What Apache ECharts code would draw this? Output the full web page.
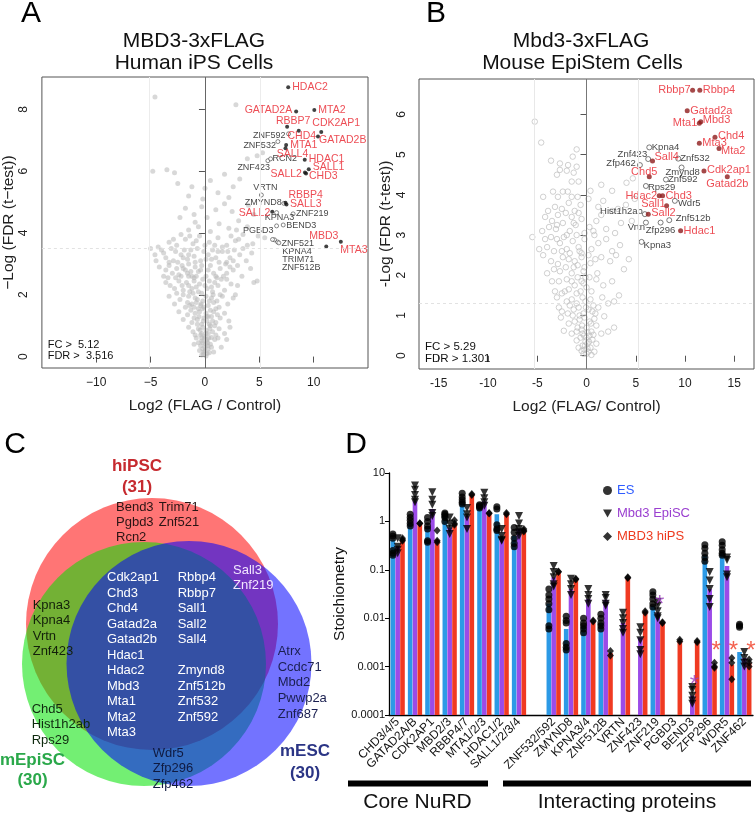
<!DOCTYPE html>
<html><head><meta charset="utf-8">
<script src="https://cdn.jsdelivr.net/npm/echarts@6/dist/echarts.min.js"></script>
<style>html,body{margin:0;padding:0;background:#fff}#c{width:756px;height:815px}</style>
</head><body><div id="c"></div><script>
const FF = 'Liberation Sans, Arial, Helvetica, sans-serif';

// ---------- Panel A data (Log2 FLAG/Control, -Log FDR) ----------
const aXTicks = [-10, -5, 0, 5, 10];
const aYTicks = [0, 2, 4, 6, 8];
const aBackground = [
 [-0.3,0.05],[0.1,0.02],[0.2,0.1],[-0.1,0.15],[0,0.3],[0.3,0.25],[-0.4,0.35],[0.5,0.4],[-0.2,0.45],[0.15,0.5],[-0.5,0.2],[0.4,0.12],[-0.15,0.08],[0.05,0.4],[0.25,0.45],[-0.3,0.5],[0.6,0.3],[-0.6,0.45],[0.8,0.15],[1.5,0.3],[2,0.55],[-1,0.4],[1.2,0.6],[0,0.18],[-0.05,0.6],[0.1,0.75],
 [-0.8,0.6],[-0.4,0.7],[0,0.65],[0.3,0.75],[0.7,0.8],[-0.6,0.9],[-0.2,0.95],[0.1,0.85],[0.5,1.0],[0.9,0.55],[-1.1,0.8],[1.3,0.9],[-0.3,0.6],[0.2,0.55],[1.8,0.75],[-1.5,0.95],[2.3,0.95],[0.6,0.62],[-0.9,0.7],[1.0,0.7],
 [-1.2,1.1],[-0.7,1.2],[-0.3,1.05],[0.2,1.15],[0.6,1.3],[1,1.1],[-1.6,1.35],[-0.5,1.45],[0.1,1.4],[0.8,1.45],[1.4,1.25],[-2,1.2],[-0.9,1.4],[0.4,1.05],[1.8,1.4],[-1.3,1.5],[2.2,1.15],[-2.4,1.45],[-0.1,1.25],[0.9,1.0],[-0.2,1.55],[0.3,1.3],
 [-1.8,1.6],[-1.2,1.7],[-0.6,1.55],[-0.2,1.8],[0.3,1.65],[0.8,1.75],[1.3,1.6],[-2.3,1.85],[-1.5,1.95],[-0.9,1.9],[0.1,1.95],[0.6,1.9],[1.6,1.95],[-2.8,1.7],[2.1,1.7],[-0.4,1.65],[1.0,1.55],[-1.0,1.6],[2.6,1.9],[-3.3,1.95],[-1.6,1.75],[-0.7,1.85],
 [-2.6,2.05],[-2,2.15],[-1.4,2.1],[-0.8,2.25],[-0.3,2.05],[0.2,2.2],[0.7,2.1],[1.2,2.3],[1.8,2.15],[-3.2,2.3],[-2.4,2.45],[-1.7,2.4],[-1.0,2.45],[0.4,2.45],[1.5,2.5],[2.4,2.35],[-3.6,2.4],[-0.5,2.35],[3.0,2.3],[4.5,2.4],[4.8,2.45],[2.8,2.0],[-1.2,2.2],[0.9,2.4],[-2.1,2.3],[-1.5,2.6],
 [-3.8,2.6],[-3.0,2.7],[-2.4,2.65],[-1.8,2.8],[-1.2,2.6],[-0.6,2.75],[0.1,2.6],[0.8,2.7],[1.4,2.85],[2.0,2.7],[-4.2,2.9],[-3.3,2.95],[-2.1,2.95],[-1.5,3.0],[-0.9,2.9],[0.5,2.95],[1.9,3.0],[2.6,2.8],[3.4,2.6],[-2.7,2.55],[-1.0,2.55],[-0.3,2.95],[1.1,2.55],[3.0,2.95],[4.2,2.85],[-2.0,2.85],[-1.3,2.75],
 [-4.5,3.1],[-3.6,3.2],[-2.9,3.1],[-2.2,3.3],[-1.6,3.15],[-1.0,3.25],[-0.4,3.1],[0.3,3.3],[1.0,3.2],[1.6,3.4],[2.3,3.2],[3.2,3.3],[-4.0,3.45],[-3.1,3.5],[-1.9,3.45],[-0.7,3.5],[0.7,3.45],[2.7,3.45],[3.8,3.1],[-5.0,3.5],[-2.5,3.05],[-1.3,3.45],[2.0,3.05],[4.3,3.35],[-0.1,3.4],
 [-3.3,3.7],[-2.6,3.6],[-1.8,3.8],[-1.1,3.65],[-0.5,3.9],[0.4,3.7],[1.2,3.85],[2.0,3.6],[2.8,3.75],[3.5,3.95],[4.4,3.65],[4.9,3.9],[-2.2,3.95],[-0.8,3.75],[1.6,3.55],[3.9,3.6],[5.5,3.85],[-4.3,3.55],[0.0,3.6],[2.4,3.9],
 [-1.5,4.1],[-0.6,4.2],[0.5,4.05],[1.3,4.3],[2.2,4.15],[3.1,4.4],[3.9,4.2],[-2.3,4.5],[-1.0,4.6],[0.2,4.5],[1.0,4.75],[2.5,4.7],[4.5,4.6],[-0.3,4.85],[1.8,4.95],[-1.8,4.8],[4.0,4.9],[2.9,4.1],[-0.9,4.35],
 [-1.5,5.2],[-0.2,5.1],[1.2,5.3],[2.6,5.5],[-2.5,5.6],[0.5,5.7],[1.8,5.9],[3.2,5.75],[-3.5,6.05],[-4.8,6.0],[-2.8,5.95],[3.9,6.4],[5.3,6.6],[4.8,6.5],[-1.2,5.5],[0.0,5.45],[2.2,5.15],[-4.6,8.4],[2.85,8.15],
 [-0.2,0.25],[0.35,0.6],[-0.45,0.85],[0.45,0.9],[-0.7,1.05],[0.7,1.15],[-0.15,1.15],[0.15,1.3],[-1.0,1.25],[1.15,1.35],[-0.55,1.3],[0.5,1.5],[-1.4,1.65],[-0.8,1.75],[-0.1,1.6],[0.4,1.8],[1.1,1.8],[-2.0,2.0],[-1.1,2.05],[-0.6,2.1],
 [0.0,2.3],[0.6,2.25],[1.4,2.0],[-2.8,2.2],[-1.5,2.3],[-0.2,2.5],[1.0,2.6],[2.0,2.5],[-3.4,2.55],[-2.2,2.6],[-0.8,2.6],[0.3,2.8],[1.7,2.6],[-3.6,2.8],[-2.6,2.85],[-1.6,2.7],[-0.4,2.8],[2.3,2.9],[-4.6,3.3],[-3.3,3.05],
 [-2.0,3.2],[-0.9,3.05],[0.6,3.15],[1.3,3.05],[2.6,3.1],[3.5,3.5],[-3.8,3.35],[-2.7,3.4],[-1.5,3.3],[0.1,3.15],[1.2,3.4],[2.1,3.4],[-2.9,3.8],[-1.4,3.9],[0.9,3.6],[3.1,3.8],[-0.3,0.75],[0.25,0.35],[-0.35,1.7],[0.75,2.0]
];
const aRedNames = ['HDAC2','GATAD2A','MTA2','RBBP7','CDK2AP1','CHD4','GATAD2B','MTA1','SALL4','HDAC1','SALL1','CHD3','SALL2','RBBP4','SALL3','SALL2','MBD3','MTA3'];
const aRedX = [7.66, 8.39, 10.06, 7.56, 10.7, 8.63, 10.4, 7.47, 7.41, 9.18, 9.55, 9.3, 9.2, 7.41, 7.5, 6.19, 12.5, 11.16];
const aRedY = [8.72, 7.93, 7.98, 7.44, 7.27, 7.31, 7.12, 6.85, 6.74, 6.37, 6.06, 5.93, 5.96, 4.98, 4.92, 4.69, 3.72, 3.56];
const aBlkNames = ['ZNF592','ZNF532','ZNF423','RCN2','VRTN','ZMYND8','KPNA3','ZNF219','PGBD3','BEND3','ZNF521','KPNA4','TRIM71','ZNF512B'];
const aBlkX = [7.69, 6.71, 5.79, 6.04, 5.19, 7.26, 6.59, 8.11, 6.59, 7.2, 6.68, 6.4, 6.22, 6.8];
const aBlkY = [7.21, 6.96, 6.34, 6.4, 5.23, 4.96, 4.66, 4.62, 4.23, 4.26, 3.71, 3.78, 3.79, 3.68];

// ---------- Panel B data ----------
const bXTicks = [-15, -10, -5, 0, 5, 10, 15];
const bYTicks = [0, 1, 2, 3, 4, 5, 6];
const bBackground = [
 [0,0.05],[0.2,0.1],[-0.2,0.15],[0.4,0.2],[-0.4,0.25],[0.1,0.3],[-0.1,0.35],[0.6,0.4],[-0.6,0.45],[0.3,0.5],[-0.3,0.05],[0.8,0.1],[-0.8,0.2],[0,0.45],[0.5,0.02],[-0.5,0.12],[1.0,0.3],[-1.0,0.38],[0.1,0.18],[-0.15,0.25],
 [-1.5,0.55],[-1.0,0.6],[-0.5,0.65],[0,0.7],[0.5,0.6],[1.0,0.75],[-1.8,0.8],[-1.2,0.85],[-0.7,0.9],[-0.2,0.95],[0.3,0.85],[0.8,0.92],[1.5,0.55],[2.2,0.6],[-2.3,0.62],[-0.4,0.55],[0.7,0.52],[-2.6,0.95],[2.8,0.7],[1.8,0.98],[-0.9,0.7],[0.1,0.58],
 [-2.5,1.1],[-1.9,1.05],[-1.3,1.15],[-0.8,1.2],[-0.3,1.05],[0.2,1.15],[0.7,1.25],[-2.0,1.35],[-1.5,1.4],[-1.0,1.3],[-0.4,1.45],[0.4,1.4],[1.2,1.2],[2.2,1.3],[2.8,1.35],[-2.8,1.2],[-0.1,1.35],[-1.7,1.25],[1.6,1.45],[-3.0,1.45],[0.9,1.05],
 [-3.2,1.6],[-2.5,1.55],[-1.8,1.65],[-1.2,1.75],[-0.6,1.6],[0.0,1.7],[-2.8,1.85],[-2.0,1.9],[-1.5,1.85],[-0.9,1.95],[-0.3,1.8],[0.5,1.6],[1.0,1.9],[3.3,1.5],[-3.5,1.85],[-1.0,1.55],[-0.1,1.95],[2.6,1.85],[1.7,1.75],
 [-4.0,2.05],[-3.3,2.15],[-2.7,2.1],[-2.1,2.2],[-1.5,2.05],[-0.9,2.25],[-0.3,2.1],[0.4,2.3],[1.1,2.05],[-3.6,2.35],[-2.4,2.45],[-1.8,2.4],[-1.2,2.35],[-0.5,2.45],[0.2,2.5],[1.5,2.45],[2.4,2.35],[3.8,2.15],[4.3,2.4],[-4.4,2.5],[3.0,2.5],[-2.9,2.28],[0.9,2.4],[-0.2,2.2],
 [-4.8,2.65],[-4.0,2.7],[-3.3,2.6],[-2.7,2.8],[-2.0,2.65],[-1.4,2.85],[-0.8,2.7],[-0.2,2.9],[0.5,2.65],[1.2,2.8],[-3.6,2.95],[-2.3,2.95],[-1.0,3.0],[0.8,3.0],[2.0,2.9],[3.4,2.75],[-5.5,2.95],[2.6,2.6],[-1.7,2.55],[-3.0,2.9],[-0.5,2.55],
 [-4.5,3.1],[-3.8,3.2],[-3.1,3.15],[-2.4,3.3],[-1.7,3.1],[-1.1,3.25],[-0.5,3.4],[0.3,3.2],[1.0,3.35],[2.0,3.15],[-4.2,3.45],[-2.9,3.5],[-1.5,3.45],[2.9,3.05],[3.5,3.3],[4.6,3.35],[-0.2,3.05],[1.5,3.5],[-3.5,3.35],[0.7,3.1],
 [-3.9,3.6],[-3.2,3.7],[-2.5,3.65],[-1.8,3.8],[-1.2,3.6],[-0.6,3.75],[0.2,3.9],[1.2,3.7],[2.6,3.6],[4.0,3.75],[4.9,3.9],[-4.4,3.95],[-2.9,3.95],[-0.9,3.95],[3.2,3.65],[-2.1,3.55],[1.7,3.85],
 [-3.4,4.08],[-2.4,4.08],[-1.9,4.08],[-1.5,4.33],[-0.8,4.33],[0.4,4.1],[1.5,4.25],[4.06,4.3],[4.7,4.41],[-3.0,4.5],[-2.0,4.6],[-1.3,4.55],[-2.7,4.78],[-1.87,4.74],[-2.7,4.62],[-1.0,4.7],[-1.4,4.95],[-3.6,4.85],[-1.0,5.13],[-4.6,5.3],[-5.25,5.82],[2.6,4.1],
 [-0.25,0.5],[0.25,0.35],[-0.45,0.75],[0.45,0.8],[-0.7,1.0],[0.6,1.1],[-0.05,1.2],[-1.4,1.0],[-2.2,1.6],[-0.5,1.85],[0.3,1.95],[-1.3,2.2],[-0.7,2.6],[-2.5,2.6],[-4.2,2.9],[-2.0,3.0],[-3.0,3.25],[-1.3,3.3],[-0.8,3.55],[-1.5,3.95]
];
const bRedNames = ['Rbbp7','Rbbp4','Gatad2a','Mta1','Mbd3','Chd4','Mta3','Mta2','Sall4','Chd5','Cdk2ap1','Gatad2b','Hdac2','Chd3','Sall1','Sall2','Hdac1'];
const bRedX = [10.77, 11.5, 10.22, 11.45, 11.6, 13.04, 11.45, 13.45, 6.7, 6.37, 11.92, 14.29, 7.38, 7.72, 8.13, 6.27, 9.55];
const bRedY = [6.6, 6.6, 6.09, 5.78, 5.82, 5.43, 5.28, 5.15, 4.84, 4.45, 4.59, 4.45, 3.98, 3.98, 3.73, 3.52, 3.11];
const bBlkNames = ['Kpna4','Znf423','Znf532','Zfp462','Zmynd8','Znf592','Rps29','Wdr5','Hist1h2ab','Znf512b','Vrtn','Zfp296','Kpna3'];
const bBlkX = [6.37, 6.26, 9.31, 5.42, 9.65, 8.06, 6.03, 8.97, 5.92, 8.4, 6.03, 7.52, 5.59];
const bBlkY = [5.18, 4.89, 4.9, 4.74, 4.68, 4.38, 4.22, 3.85, 3.52, 3.37, 3.31, 3.31, 2.83];

// ---------- Panel C data (Venn) ----------
const vennSets = ['hiPSC', 'mEpiSC', 'mESC'];
const vennCounts = [31, 30, 30];
const vennHiOnlyA = ['Bend3', 'Pgbd3', 'Rcn2'];
const vennHiOnlyB = ['Trim71', 'Znf521'];
const vennAllA = ['Cdk2ap1','Chd3','Chd4','Gatad2a','Gatad2b','Hdac1','Hdac2','Mbd3','Mta1','Mta2','Mta3'];
const vennAllB = ['Rbbp4','Rbbp7','Sall1','Sall2','Sall4','','Zmynd8','Znf512b','Znf532','Znf592'];
const vennHiEsc = ['Sall3', 'Znf219'];
const vennHiEpi = ['Kpna3', 'Kpna4', 'Vrtn', 'Znf423'];
const vennEpiOnly = ['Chd5', 'Hist1h2ab', 'Rps29'];
const vennEscOnly = ['Atrx', 'Ccdc71', 'Mbd2', 'Pwwp2a', 'Znf687'];
const vennEpiEsc = ['Wdr5', 'Zfp296', 'Zfp462'];

// ---------- Panel D data (stoichiometry) ----------
const dCategories = ['CHD3/4/5','GATAD2A/B','CDK2AP1','MBD2/3','RBBP4/7','MTA1/2/3','HDAC1/2','SALL1/2/3/4','','ZNF532/592','ZMYND8','KPNA3/4','ZNF512B','VRTN','ZNF423','ZNF219','PGBD3','BEND3','ZFP296','WDR5','ZNF462'];
const dTickLabels = ['0.0001','0.001','0.01','0.1','1','10'];
const esMean    = [0.42, 0.95, 0.8, 1.3, 2.6, 2.0, 1.4, 0.5, null, 0.02, 0.006, 0.007, 0.008, null, null, 0.018, null, null, 0.2, 0.24, 0.002];
const episcMean = [0.3, 2.6, 1.8, 0.75, 1.3, 2.6, 0.45, 0.7, null, 0.07, 0.04, 0.025, 0.024, 0.008, 0.004, 0.013, null, 0.00025, 0.04, 0.12, 0.0015];
const hipsMean  = [0.42, 0.9, 0.42, 0.9, 3.6, 1.45, 1.45, 0.65, null, 0.09, 0.063, 0.0085, 0.0019, 0.068, 0.0135, 0.008, 0.0034, 0.0033, 0.001, 0.0011, 0.0012];
const esReps = [
 [0.55,0.5,0.45,0.25,0.22,0.2],[1.4,1.2,1.05,0.9,0.8],[1.2,1.0,0.8,0.7,0.4,0.37],[1.5,1.4,1.3,1.2,1.0],[3.8,3.2,2.8,2.5,2.3],[2.2,2.1,2.0,1.9],[2.0,1.8,0.85,0.7,0.65],[0.75,0.6,0.45,0.35,0.3],[],
 [0.04,0.03,0.025,0.02,0.015,0.007,0.006],[0.011,0.009,0.008,0.003,0.0025,0.0022],[0.01,0.008,0.007,0.006,0.005],[0.012,0.01,0.008,0.007,0.006],[],[],[0.035,0.03,0.025,0.02,0.017],[],[],[0.33,0.28,0.22,0.18,0.15],[0.38,0.32,0.26,0.22,0.2],[0.0075,0.007,0.0065]
];
const episcReps = [
 [0.45,0.3,0.26,0.22],[5.5,4.5,3.5,2.8,2.5],[4.0,2.8,2.2,1.5,1.3],[1.2,0.9,0.7,0.55],[1.9,1.4,1.2,0.7],[3.9,3.0,2.5,2.1],[0.7,0.5,0.42,0.4],[1.3,0.9,0.7,0.6,0.5],[],
 [0.12,0.09,0.07,0.05,0.045],[0.065,0.05,0.04,0.03],[0.04,0.03,0.025,0.02],[0.03,0.026,0.02,0.018],[0.013,0.01,0.008,0.006,0.005],[0.0065,0.005,0.0035,0.0022,0.0018],[0.022,0.018,0.014,0.011,0.01],[],[0.00038,0.00033,0.00025,0.0002,0.00017],[0.09,0.06,0.04,0.025,0.017],[0.18,0.16,0.08,0.07],[0.002,0.0015,0.0012,0.001]
];
const hipsReps = [
 [0.45,0.42,0.4],[0.92,0.9],[0.65,0.4,0.37],[1.05,0.9,0.85],[3.7,3.5],[1.5,1.45],[1.5,1.4],[0.7,0.65,0.62],[],
 [0.092,0.09],[0.065,0.063],[0.009,0.0085],[0.0021,0.0017],[0.07,0.068],[0.014,0.013],[0.0082,0.008],[0.0036,0.0033],[0.0034,0.0032],[0.0012,0.001,0.00095],[0.0015,0.0012,0.00055],[0.0014,0.0012,0.001]
];
const starsEpisc = [[15, 0.0247], [17, 0.00055]];
const starsHips = [[18, 0.0027], [19, 0.0027], [20, 0.0027]];

// ---------- label placement (style, kept apart from data) ----------
const aRedLbl = [[4,0,'left'],[-4,-1,'right'],[4,0,'left'],[6,-6,'center'],[15,-9,'center'],[3,5.5,'center'],[1,3.5,'left'],[4,0.5,'left'],[7,6,'center'],[4,-1,'left'],[4,-2,'left'],[3,2.5,'left'],[-3,1.5,'right'],[3,-7.5,'left'],[3.5,-0.5,'left'],[-2,1,'right'],[-2.5,-5.5,'right'],[14,3.3,'left']];
const aBlkLbl = [[-3,1.5,'right'],[-2,4,'right'],[2,6.6,'right'],[2,0,'left'],[4,-7,'center'],[-2,-0.5,'right'],[3,4.5,'center'],[3,0,'left'],[-3,4.5,'right'],[3,1,'left'],[4,2,'left'],[7.7,12,'left'],[9.7,20.5,'left'],[3.2,24.7,'left']];
const bRedLbl = [[-2,0,'right'],[3,0,'left'],[3,0,'left'],[-2,0,'right'],[2,-1.7,'left'],[3,-1,'left'],[3,0,'left'],[2,2,'left'],[2,-4,'left'],[-5,-5,'center'],[3,-1.5,'left'],[0,7.5,'center'],[-2,0,'right'],[3,0,'left'],[-1,-2,'right'],[3,-1.3,'left'],[3,0,'left']];
const bBlkLbl = [[2.5,0,'left'],[-1,-5,'right'],[2,0,'left'],[-4,-1.5,'right'],[1,5.3,'center'],[2,0,'left'],[2,1.3,'left'],[3,3,'left'],[-2,-3,'right'],[6.5,-1.7,'left'],[-1,4.7,'right'],[0,8,'center'],[2,3.3,'left']];
const vennCX = [152, 144, 189];
const vennCY = [224, 264, 263.5];
const vennR = [126, 122, 122.5];
const vennFill = ['rgba(255,0,0,0.54)', 'rgba(0,225,0,0.55)', 'rgba(0,0,255,0.55)'];

function labeled(names, xs, ys, lbl, color, size) {
  return names.map((n, i) => ({
    value: [xs[i], ys[i]], name: n,
    label: { show: true, formatter: n, position: 'inside', offset: [lbl[i][0], lbl[i][1]], align: lbl[i][2], verticalAlign: 'middle', color: color, fontSize: size, fontFamily: FF }
  }));
}
function reps(arr) { const out = []; arr.forEach((r, i) => r.forEach(v => out.push([i, v]))); return out; }
const minus = v => (v < 0 ? '\u2212' + (-v) : String(v));

function textBlock(lines, x, firstCenter, color, size, lh, extra) {
  return { type: 'text', x: x, y: firstCenter - lh / 2, silent: true, z: 100,
    style: Object.assign({ text: lines.join('\n'), fill: color, fontSize: size, fontFamily: FF, lineHeight: lh, align: 'left', verticalAlign: 'top' }, extra || {}) };
}
function ctext(t, x, y, size, color, weight, align) {
  return { type: 'text', x: x, y: y, silent: true, z: 100, style: { text: t, fill: color || '#000', fontSize: size, fontFamily: FF, fontWeight: weight || 'normal', align: align || 'center', verticalAlign: 'middle' } };
}

const chart = echarts.init(document.getElementById('c'), null, { renderer: 'canvas', width: 756, height: 815 });

const volcAxisX = (gi, min, max, ticks, name, fmt) => ({
  gridIndex: gi, type: 'value', min: min, max: max,
  axisLine: { show: false }, splitLine: { show: false },
  axisTick: { show: true, customValues: ticks, length: 6, lineStyle: { color: '#555' } },
  axisLabel: { customValues: ticks, formatter: fmt, fontSize: 12, color: '#222', margin: 9, fontFamily: FF },
  name: name, nameLocation: 'middle', nameGap: 30, nameTextStyle: { fontSize: 15.5, color: '#222', fontFamily: FF }
});
const volcAxisY = (gi, min, max, ticks, name, gap, margin) => ({
  gridIndex: gi, type: 'value', min: min, max: max,
  axisLine: { show: false }, splitLine: { show: false },
  axisTick: { show: true, customValues: ticks, length: 6, lineStyle: { color: '#555' } },
  axisLabel: { customValues: ticks, rotate: 90, fontSize: 12, color: '#222', margin: margin, fontFamily: FF },
  name: name, nameLocation: 'middle', nameGap: gap, nameTextStyle: { fontSize: 15.5, color: '#222', fontFamily: FF }
});

const option = {
  animation: false,
  textStyle: { fontFamily: FF },
  grid: [
    { left: 41, top: 77, width: 327, height: 291, show: true, borderColor: '#555', borderWidth: 1, backgroundColor: 'transparent' },
    { left: 419, top: 79, width: 335, height: 290, show: true, borderColor: '#555', borderWidth: 1, backgroundColor: 'transparent' },
    { left: 0, top: 400, width: 340, height: 415 },
    { left: 389, top: 473, width: 364, height: 242 }
  ],
  xAxis: [
    volcAxisX(0, -15, 15, aXTicks, 'Log2 (FLAG / Control)', minus),
    volcAxisX(1, -17, 17, bXTicks, 'Log2 (FLAG/ Control)', v => String(v)),
    { gridIndex: 2, type: 'value', min: 0, max: 340, show: false },
    { gridIndex: 3, type: 'category', data: dCategories,
      axisLine: { lineStyle: { color: '#000', width: 1.3 } }, axisTick: { show: false },
      axisLabel: { interval: 0, rotate: 45, fontSize: 12, color: '#111', margin: 5, fontFamily: FF } }
  ],
  yAxis: [
    volcAxisY(0, -0.37, 9.05, aYTicks, '\u2212Log (FDR (t\u2212test))', 21, 12),
    volcAxisY(1, -0.33, 6.88, bYTicks, '-Log (FDR (t-test))', 25, 11),
    { gridIndex: 2, type: 'value', min: 0, max: 415, inverse: true, show: false },
    { gridIndex: 3, type: 'log', logBase: 10, min: 0.0001, max: 10, startValue: 0.0001,
      axisLine: { show: true, lineStyle: { color: '#000', width: 1.3 } },
      axisTick: { show: true, length: 4, lineStyle: { color: '#000' } },
      splitLine: { show: false },
      axisLabel: { fontSize: 11, color: '#111', margin: 4, fontFamily: FF,
        formatter: v => dTickLabels[Math.round(Math.log10(v)) + 4] },
      name: 'Stoichiometry', nameLocation: 'middle', nameGap: 29, nameTextStyle: { fontSize: 15.5, color: '#111', fontFamily: FF } }
  ],
  legend: {
    orient: 'vertical', left: 598, top: 479, itemWidth: 9, itemHeight: 9, itemGap: 10,
    textStyle: { fontSize: 13, fontFamily: FF },
    data: [
      { name: 'ES', icon: 'circle', textStyle: { color: '#2f5cff' } },
      { name: 'Mbd3 EpiSC', icon: 'path://M0,0L10,0L5,9Z', textStyle: { color: '#9a3fd0' } },
      { name: 'MBD3 hiPS', icon: 'diamond', textStyle: { color: '#ee3a1e' } }
    ]
  },
  series: [
    // Panel A
    { type: 'scatter', xAxisIndex: 0, yAxisIndex: 0, data: aBackground, symbolSize: 5, silent: true,
      itemStyle: { color: 'rgba(185,185,185,0.7)' },
      markLine: { silent: true, symbol: ['none', 'none'], label: { show: false },
        data: [
          { xAxis: -5.12, lineStyle: { color: '#ececec', type: 'solid', width: 1 } },
          { xAxis: 5.12, lineStyle: { color: '#ececec', type: 'solid', width: 1 } },
          { yAxis: 3.516, lineStyle: { color: '#e2e2e2', type: [3, 3], width: 1 } },
          { xAxis: 0, lineStyle: { color: '#666', type: 'solid', width: 1 } }
        ] } },
    { type: 'scatter', xAxisIndex: 0, yAxisIndex: 0, symbolSize: 4, silent: true,
      itemStyle: { color: '#ffffff', borderColor: '#444', borderWidth: 0.8 },
      data: labeled(aBlkNames, aBlkX, aBlkY, aBlkLbl, '#111', 9) },
    { type: 'scatter', xAxisIndex: 0, yAxisIndex: 0, symbolSize: 4, silent: true,
      itemStyle: { color: '#111' },
      data: labeled(aRedNames, aRedX, aRedY, aRedLbl, '#e8202a', 10.5) },
    // Panel B
    { type: 'scatter', xAxisIndex: 1, yAxisIndex: 1, data: bBackground, symbolSize: 5.5, silent: true,
      itemStyle: { color: 'rgba(255,255,255,0)', borderColor: '#bdbdbd', borderWidth: 0.9 },
      markLine: { silent: true, symbol: ['none', 'none'], label: { show: false },
        data: [
          { xAxis: -5.29, lineStyle: { color: '#e8e8e8', type: 'solid', width: 1 } },
          { xAxis: 5.29, lineStyle: { color: '#e8e8e8', type: 'solid', width: 1 } },
          { yAxis: 1.301, lineStyle: { color: '#e2e2e2', type: [3, 3], width: 1 } },
          { xAxis: 0, lineStyle: { color: '#777', type: 'solid', width: 1 } }
        ] } },
    { type: 'scatter', xAxisIndex: 1, yAxisIndex: 1, symbolSize: 5, silent: true,
      itemStyle: { color: '#ffffff', borderColor: '#333', borderWidth: 0.8 },
      data: labeled(bBlkNames, bBlkX, bBlkY, bBlkLbl, '#111', 9.5) },
    { type: 'scatter', xAxisIndex: 1, yAxisIndex: 1, symbolSize: 5, silent: true,
      itemStyle: { color: '#8e1b1b' },
      data: labeled(bRedNames, bRedX, bRedY, bRedLbl, '#e8202a', 11) },
    // Panel C (Venn circles)
    { type: 'custom', xAxisIndex: 2, yAxisIndex: 2, silent: true,
      data: vennCX.map((x, i) => [x, vennCY[i], vennR[i]]),
      renderItem: (params, api) => {
        const c = api.coord([api.value(0), api.value(1)]);
        const r = api.size([api.value(2), 0])[0];
        return { type: 'circle', shape: { cx: c[0], cy: c[1], r: r }, style: { fill: vennFill[params.dataIndex] } };
      } },
    // Panel D bars
    { type: 'bar', name: 'ES mean', xAxisIndex: 3, yAxisIndex: 3, data: esMean, barWidth: 4.6, barGap: '5%', silent: true, itemStyle: { color: '#2c9ae6' } },
    { type: 'bar', name: 'EpiSC mean', xAxisIndex: 3, yAxisIndex: 3, data: episcMean, barWidth: 4.6, barGap: '5%', silent: true, itemStyle: { color: '#9b4be8' } },
    { type: 'bar', name: 'hiPS mean', xAxisIndex: 3, yAxisIndex: 3, data: hipsMean, barWidth: 4.6, barGap: '5%', silent: true, itemStyle: { color: '#f03a22' } },
    { type: 'scatter', name: 'ES', xAxisIndex: 3, yAxisIndex: 3, data: reps(esReps), symbol: 'circle', symbolSize: 7, symbolOffset: [-4.8, 0], itemStyle: { color: '#000' }, silent: true, z: 5 },
    { type: 'scatter', name: 'Mbd3 EpiSC', xAxisIndex: 3, yAxisIndex: 3, data: reps(episcReps), symbol: 'triangle', symbolRotate: 180, symbolSize: 8, symbolOffset: [0, 0], itemStyle: { color: '#000' }, silent: true, z: 5 },
    { type: 'scatter', name: 'MBD3 hiPS', xAxisIndex: 3, yAxisIndex: 3, data: reps(hipsReps), symbol: 'diamond', symbolSize: [7, 8], symbolOffset: [4.8, 0], itemStyle: { color: '#000' }, silent: true, z: 5 },
    { type: 'scatter', xAxisIndex: 3, yAxisIndex: 3, data: starsEpisc, symbolSize: 1, itemStyle: { color: 'rgba(0,0,0,0)' }, silent: true, z: 6,
      label: { show: true, formatter: '*', position: 'inside', offset: [2, 6], color: '#9b3fc0', fontSize: 24, fontFamily: FF } },
    { type: 'scatter', xAxisIndex: 3, yAxisIndex: 3, data: starsHips, symbolSize: 1, itemStyle: { color: 'rgba(0,0,0,0)' }, silent: true, z: 6,
      label: { show: true, formatter: '*', position: 'inside', offset: [6.5, 6], color: '#f03a22', fontSize: 24, fontFamily: FF } }
  ],
  graphic: [
    ctext('A', 31, 14, 30), ctext('B', 436, 14, 30), ctext('C', 15, 445, 30), ctext('D', 356, 445, 30),
    ctext('MBD3-3xFLAG', 194, 41, 21, '#111'), ctext('Human iPS Cells', 194, 63.5, 21, '#111'),
    ctext('Mbd3-3xFLAG', 581, 41, 21, '#111'), ctext('Mouse EpiStem Cells', 582.5, 63.5, 21, '#111'),
    textBlock(['FC >  5.12', 'FDR >  3.516'], 47.7, 345, '#111', 11, 10.5),
    textBlock(['FC > 5.29', 'FDR > 1.301'], 425, 346.7, '#111', 11.5, 12.6),
    // Venn labels
    textBlock([vennSets[0], '(' + vennCounts[0] + ')'], 137, 466, '#c62a2f', 17, 21, { fontWeight: 'bold', align: 'center' }),
    textBlock([vennSets[1], '(' + vennCounts[1] + ')'], 32.5, 760, '#2aa84a', 17, 20.7, { fontWeight: 'bold', align: 'center' }),
    textBlock([vennSets[2], '(' + vennCounts[2] + ')'], 305, 751.7, '#2b3585', 17, 21.6, { fontWeight: 'bold', align: 'center' }),
    textBlock(vennHiOnlyA, 116, 507, '#2a1414', 13, 15.3),
    textBlock(vennHiOnlyB, 158.7, 507, '#2a1414', 13, 15.3),
    textBlock(vennAllA, 107, 577.7, '#ffffff', 13, 15.5),
    textBlock(vennAllB, 177.7, 577.7, '#ffffff', 13, 15.5),
    textBlock(vennHiEsc, 233, 570, '#f2e6ff', 13, 15.6),
    textBlock(vennHiEpi, 32.7, 605, '#13200a', 13, 15.6),
    textBlock(vennEpiOnly, 31.7, 709, '#0f2a0f', 13, 15.5),
    textBlock(vennEscOnly, 277.7, 651.7, '#1a1f50', 13, 15.6),
    textBlock(vennEpiEsc, 152.7, 753.3, '#0f1a40', 13, 15.5),
    // D group bars
    { type: 'rect', silent: true, z: 100, shape: { x: 348, y: 780.5, width: 140, height: 6 }, style: { fill: '#000' } },
    { type: 'rect', silent: true, z: 100, shape: { x: 503, y: 780.5, width: 248, height: 6 }, style: { fill: '#000' } },
    ctext('Core NuRD', 417.5, 802, 21, '#111'),
    ctext('Interacting proteins', 627, 802, 21, '#111')
  ]
};
chart.setOption(option);
</script></body></html>
